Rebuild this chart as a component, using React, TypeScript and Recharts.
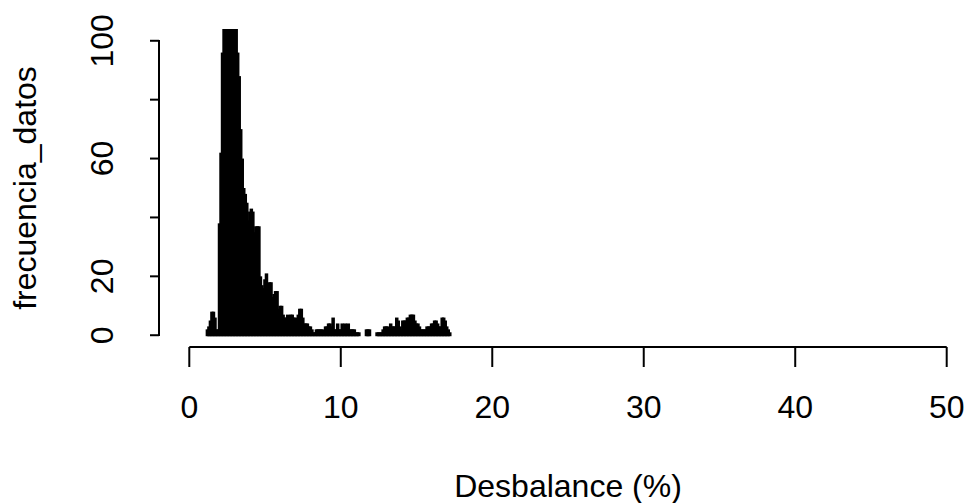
import { ComposedChart, Bar, XAxis, YAxis, ReferenceLine, Label } from "recharts";

const FONT = "'Liberation Sans', Arial, Helvetica, sans-serif";

// desbalance values (%), one per 0.1
const DESBALANCE = [
  1.2, 1.3, 1.4, 1.5, 1.6, 1.7, 1.8, 1.9, 2.0, 2.1,
  2.2, 2.3, 2.4, 2.5, 2.6, 2.7, 2.8, 2.9, 3.0, 3.1,
  3.2, 3.3, 3.4, 3.5, 3.6, 3.7, 3.8, 3.9, 4.0, 4.1,
  4.2, 4.3, 4.4, 4.5, 4.6, 4.7, 4.8, 4.9, 5.0, 5.1,
  5.2, 5.3, 5.4, 5.5, 5.6, 5.7, 5.8, 5.9, 6.0, 6.1,
  6.2, 6.3, 6.4, 6.5, 6.6, 6.7, 6.8, 6.9, 7.0, 7.1,
  7.2, 7.3, 7.4, 7.5, 7.6, 7.7, 7.8, 7.9, 8.0, 8.1,
  8.2, 8.3, 8.4, 8.5, 8.6, 8.7, 8.8, 8.9, 9.0, 9.1,
  9.2, 9.3, 9.4, 9.5, 9.6, 9.7, 9.8, 9.9, 10.0, 10.1,
  10.2, 10.3, 10.4, 10.5, 10.6, 10.7, 10.8, 10.9, 11.0, 11.1,
  11.2, 11.3, 11.4, 11.5, 11.6, 11.7, 11.8, 11.9, 12.0, 12.1,
  12.2, 12.3, 12.4, 12.5, 12.6, 12.7, 12.8, 12.9, 13.0, 13.1,
  13.2, 13.3, 13.4, 13.5, 13.6, 13.7, 13.8, 13.9, 14.0, 14.1,
  14.2, 14.3, 14.4, 14.5, 14.6, 14.7, 14.8, 14.9, 15.0, 15.1,
  15.2, 15.3, 15.4, 15.5, 15.6, 15.7, 15.8, 15.9, 16.0, 16.1,
  16.2, 16.3, 16.4, 16.5, 16.6, 16.7, 16.8, 16.9, 17.0, 17.1,
  17.2,
];

const FRECUENCIA = [
  2, 3, 5, 8, 8, 6, 2, 2, 38, 62,
  96, 115, 125, 130, 128, 135, 130, 122, 118, 108,
  96, 88, 70, 60, 50, 48, 45, 39, 42, 43,
  42, 35, 37, 37, 37, 20, 17, 16, 19, 21,
  16, 18, 18, 13, 14, 15, 15, 9, 10, 10,
  7, 6, 6, 7, 6, 7, 7, 6, 6, 5,
  7, 9, 9, 6, 4, 4, 4, 3, 3, 2,
  1, 1, 2, 2, 2, 2, 2, 1, 3, 3,
  4, 4, 3, 6, 2, 2, 4, 2, 2, 4,
  2, 4, 2, 4, 2, 2, 2, 2, 1, 1,
  1, 0, 0, 0, 0, 2, 2, 2, 0, 0,
  0, 0, 1, 1, 1, 1, 2, 3, 3, 3,
  2, 4, 3, 3, 3, 6, 5, 3, 2, 5,
  5, 5, 6, 6, 7, 7, 7, 5, 4, 4,
  3, 2, 2, 2, 2, 3, 3, 3, 4, 4,
  5, 5, 4, 3, 3, 6, 6, 5, 3, 2,
  1,
];

const X_TICKS = [0, 10, 20, 30, 40, 50];
const Y_TICKS = [0, 20, 40, 60, 80, 100];
// R drops the 40 and 80 labels because they would overlap
const Y_LABELED = [0, 20, 60, 100];

const Y_DOMAIN = [-4, 104];
const PLOT_TOP = 29;
const PLOT_LEFT = 159;
const X_AXIS_H = 156;
const CHART_H = 503;
const PX_PER_Y = (CHART_H - PLOT_TOP - X_AXIS_H) / (Y_DOMAIN[1] - Y_DOMAIN[0]);
const yPx = (v: number) => PLOT_TOP + (Y_DOMAIN[1] - v) * PX_PER_Y;

const data = DESBALANCE.map((x, i) => ({ x, frecuencia: FRECUENCIA[i] }));

const XTick = ({ x, y, payload }: any) => (
  <text x={x} y={y} dy={51} textAnchor="middle" fontSize={32} fontFamily={FONT} fill="#000">
    {payload.value}
  </text>
);

const YTick = ({ x, y, payload }: any) => {
  if (!Y_LABELED.includes(payload.value)) return <g />;
  const tx = x - 37;
  return (
    <text
      x={tx}
      y={y}
      transform={`rotate(-90, ${tx}, ${y})`}
      textAnchor="middle"
      fontSize={32}
      fontFamily={FONT}
      fill="#000"
    >
      {payload.value}
    </text>
  );
};

// type="h" style: a thick vertical stroke centred on the bar position
const HLine = ({ x, y, width, height }: any) => {
  if (!height || height <= 0) return <g />;
  const cx = x + width / 2;
  return <rect x={cx - 1.75} y={y} width={3.5} height={height + 1} fill="#000" />;
};

export default function App() {
  const y0 = Y_TICKS[0];
  const y1 = Y_TICKS[Y_TICKS.length - 1];
  return (
    <div style={{ position: "fixed", left: 0, top: 0, width: 969, height: 503, overflow: "hidden", background: "#fff" }}>
      <ComposedChart width={1000} height={CHART_H} data={data} margin={{ top: PLOT_TOP, right: 23, bottom: 0, left: 0 }}>
        <XAxis
          dataKey="x"
          type="number"
          domain={[-2, 52]}
          allowDataOverflow
          ticks={X_TICKS}
          interval={0}
          height={X_AXIS_H}
          axisLine={false}
          tickSize={20}
          tickMargin={0}
          stroke="#000"
          tickLine={{ stroke: "#000", strokeWidth: 2 }}
          tick={<XTick />}
        >
          <Label
            content={({ viewBox }: any) => (
              <text
                x={viewBox.x + viewBox.width / 2}
                y={viewBox.y + 150}
                textAnchor="middle"
                fontSize={32}
                fontFamily={FONT}
                fill="#000"
              >
                Desbalance (%)
              </text>
            )}
          />
        </XAxis>
        <YAxis
          type="number"
          domain={Y_DOMAIN}
          allowDataOverflow
          ticks={Y_TICKS}
          interval={0}
          width={PLOT_LEFT}
          axisLine={false}
          tickSize={9}
          tickMargin={0}
          stroke="#000"
          tickLine={{ stroke: "#000", strokeWidth: 2 }}
          tick={<YTick />}
        >
          <Label
            content={({ viewBox }: any) => {
              const lx = viewBox.x + 36;
              const ly = viewBox.y + viewBox.height / 2;
              return (
                <text
                  x={lx}
                  y={ly}
                  transform={`rotate(-90, ${lx}, ${ly})`}
                  textAnchor="middle"
                  fontSize={32}
                  fontFamily={FONT}
                  fill="#000"
                >
                  frecuencia_datos
                </text>
              );
            }}
          />
        </YAxis>
        <ReferenceLine
          segment={[{ x: 0, y: -4 }, { x: 50, y: -4 }]}
          stroke="#000"
          strokeWidth={2}
          ifOverflow="visible"
        />
        <Bar dataKey="frecuencia" fill="#000" barSize={3} shape={<HLine />} isAnimationActive={false} />
      </ComposedChart>
      {/* y axis line, only from 0 to 100 as R draws it */}
      <div
        style={{
          position: "absolute",
          left: PLOT_LEFT - 1,
          top: yPx(y1) - 1,
          width: 2,
          height: yPx(y0) - yPx(y1) + 2,
          background: "#000",
        }}
      />
    </div>
  );
}
